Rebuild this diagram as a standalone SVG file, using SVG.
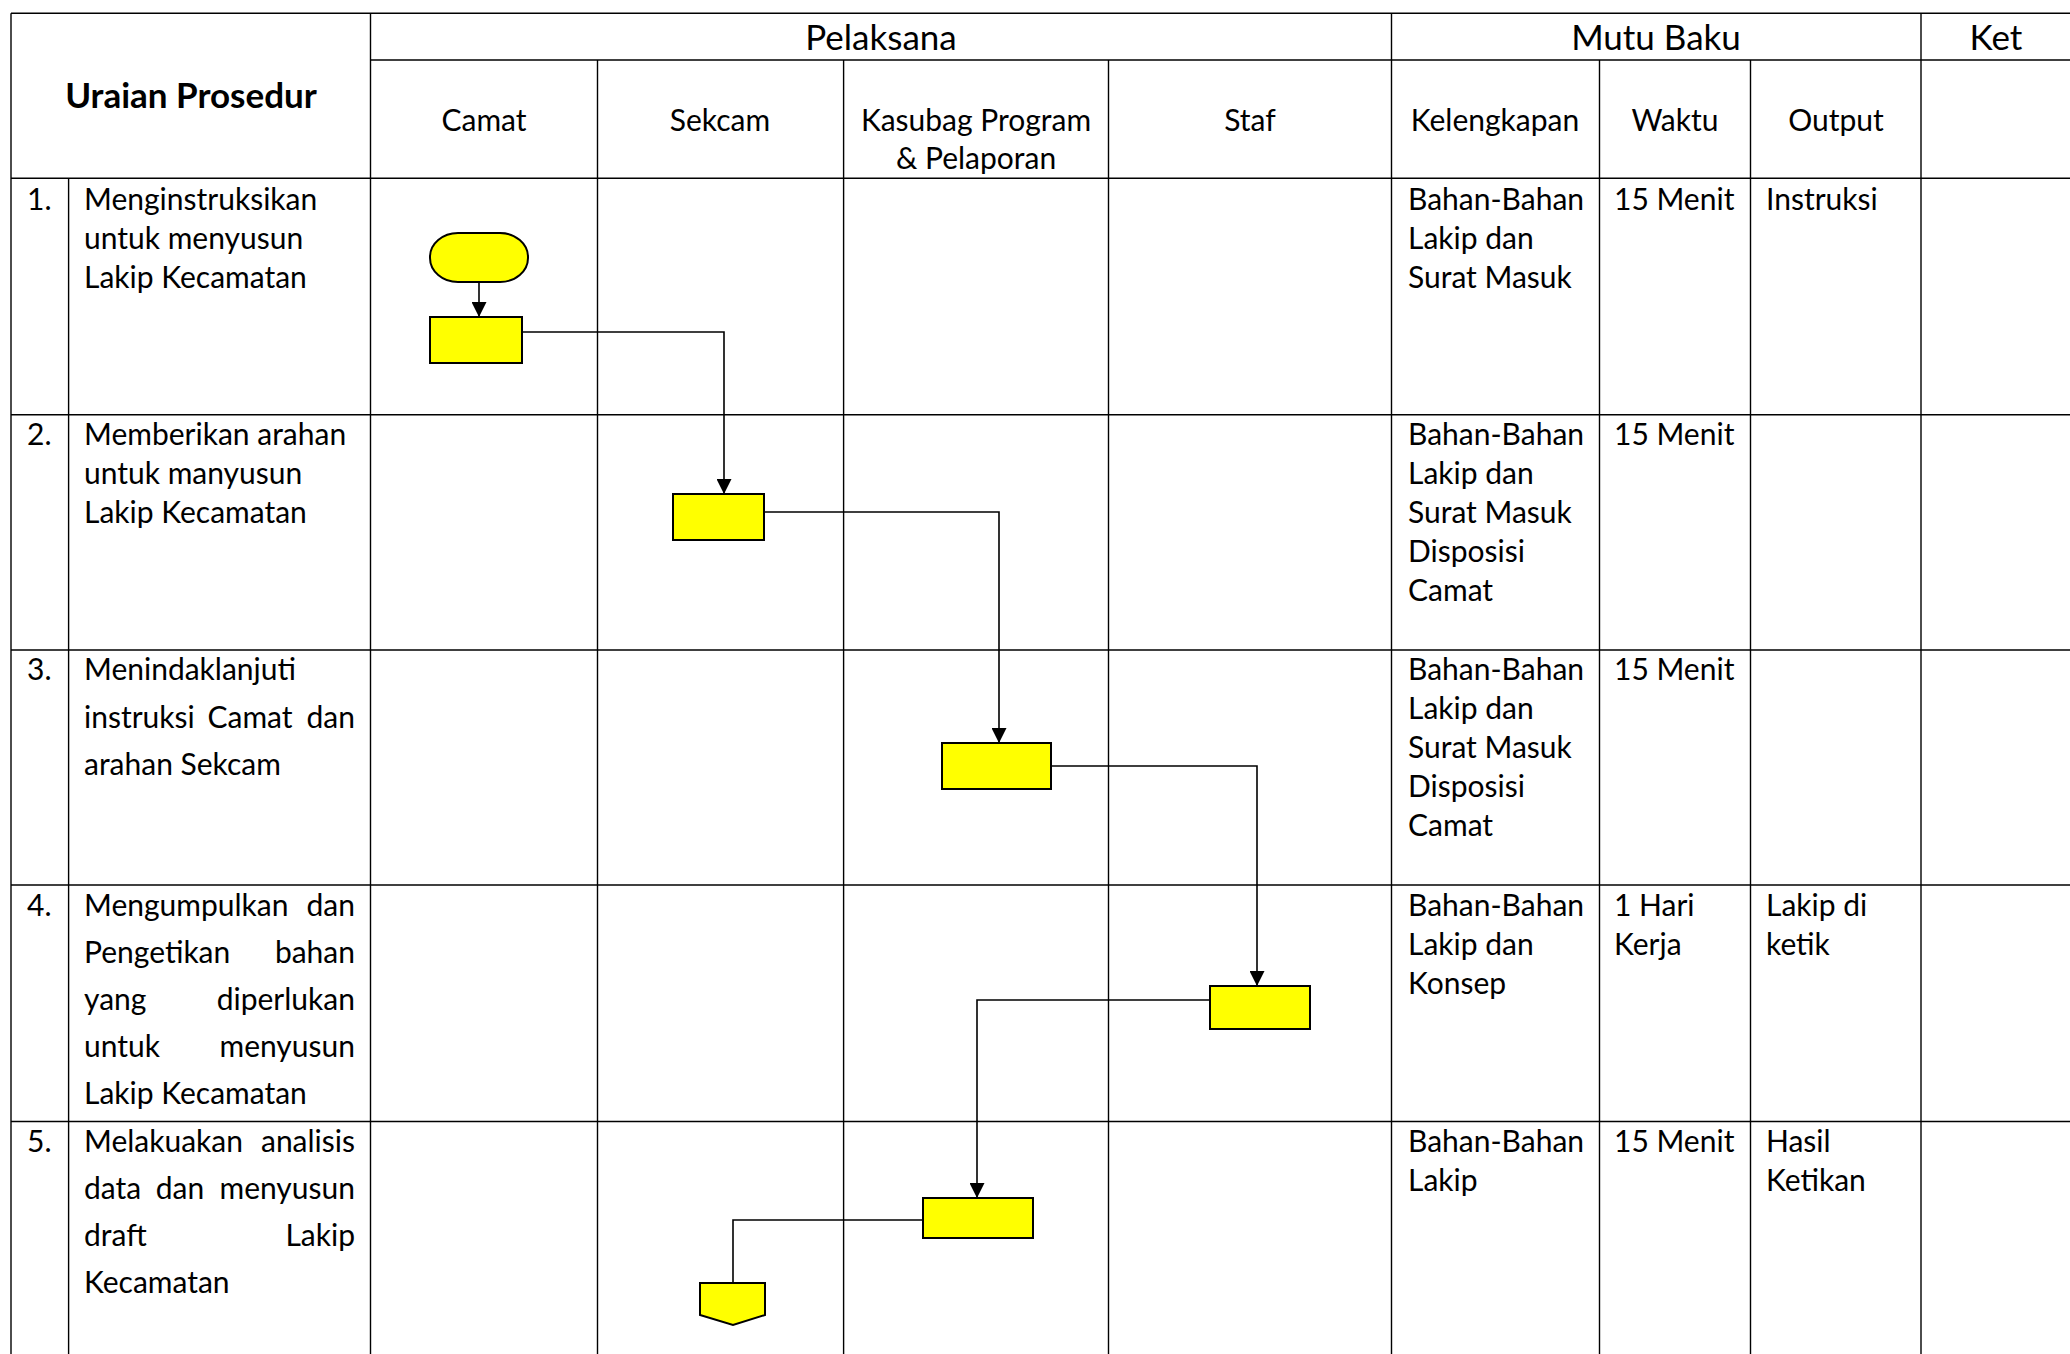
<svg xmlns="http://www.w3.org/2000/svg" width="2070" height="1354" viewBox="0 0 2070 1354">
<style>
.grid line{stroke:#000;stroke-width:1.4}
text{font-family:Lato,"Liberation Sans",sans-serif;fill:#000}
.b{font-size:30px}
.h{font-size:35px}
.hb{font-size:35px;font-weight:bold}
.c{text-anchor:middle}
.e{text-anchor:end}
.shape{fill:#ffff00;stroke:#000;stroke-width:2}
.conn path{fill:none;stroke:#000;stroke-width:1.6}
</style>
<defs>
<marker id="arr" markerUnits="userSpaceOnUse" markerWidth="15" markerHeight="15" refX="15" refY="7.5" orient="auto">
<path d="M0,0 L15,7.5 L0,15 z" fill="#000"/>
</marker>
</defs>
<rect width="2070" height="1354" fill="#fff"/>
<g class="grid">
<line x1="11" y1="13.3" x2="2070" y2="13.3"/>
<line x1="370.5" y1="60" x2="2070" y2="60"/>
<line x1="11" y1="178.3" x2="2070" y2="178.3"/>
<line x1="11" y1="414.7" x2="2070" y2="414.7"/>
<line x1="11" y1="650" x2="2070" y2="650"/>
<line x1="11" y1="885" x2="2070" y2="885"/>
<line x1="11" y1="1121.5" x2="2070" y2="1121.5"/>
<line x1="11" y1="13.3" x2="11" y2="1354"/>
<line x1="68.6" y1="178.3" x2="68.6" y2="1354"/>
<line x1="370.5" y1="13.3" x2="370.5" y2="1354"/>
<line x1="597.5" y1="60" x2="597.5" y2="1354"/>
<line x1="843.6" y1="60" x2="843.6" y2="1354"/>
<line x1="1108.5" y1="60" x2="1108.5" y2="1354"/>
<line x1="1391.5" y1="13.3" x2="1391.5" y2="1354"/>
<line x1="1599.5" y1="60" x2="1599.5" y2="1354"/>
<line x1="1750.5" y1="60" x2="1750.5" y2="1354"/>
<line x1="1921" y1="13.3" x2="1921" y2="1354"/>
</g>
<g id="header">
<text class="hb c" x="191" y="108">Uraian Prosedur</text>
<text class="h c" x="881" y="50">Pelaksana</text>
<text class="h c" x="1656" y="50">Mutu Baku</text>
<text class="h c" x="1996" y="50">Ket</text>
<text class="b c" x="484" y="131">Camat</text>
<text class="b c" x="720" y="131">Sekcam</text>
<text class="b c" x="976" y="131">Kasubag Program</text>
<text class="b c" x="976" y="169">&amp; Pelaporan</text>
<text class="b c" x="1250" y="131">Staf</text>
<text class="b c" x="1495" y="131">Kelengkapan</text>
<text class="b c" x="1675" y="131">Waktu</text>
<text class="b c" x="1836" y="131">Output</text>
</g>
<g id="row1">
<text class="b" x="27" y="210">1.</text>
<text class="b" x="84" y="210">Menginstruksikan<tspan x="84" dy="39">untuk menyusun</tspan><tspan x="84" dy="39">Lakip Kecamatan</tspan></text>
<text class="b" x="1408" y="210">Bahan-Bahan<tspan x="1408" dy="39">Lakip dan</tspan><tspan x="1408" dy="39">Surat Masuk</tspan></text>
<text class="b" x="1614" y="210">15 Menit</text>
<text class="b" x="1766" y="210">Instruksi</text>
</g>
<g id="row2">
<text class="b" x="27" y="445">2.</text>
<text class="b" x="84" y="445">Memberikan arahan<tspan x="84" dy="39">untuk manyusun</tspan><tspan x="84" dy="39">Lakip Kecamatan</tspan></text>
<text class="b" x="1408" y="445">Bahan-Bahan<tspan x="1408" dy="39">Lakip dan</tspan><tspan x="1408" dy="39">Surat Masuk</tspan><tspan x="1408" dy="39">Disposisi</tspan><tspan x="1408" dy="39">Camat</tspan></text>
<text class="b" x="1614" y="445">15 Menit</text>
</g>
<g id="row3">
<text class="b" x="27" y="680">3.</text>
<text class="b" x="84" y="680">Menindaklanjuti</text>
<text class="b" x="84" y="727.5">instruksi</text>
<text class="b c" x="250" y="727.5">Camat</text>
<text class="b e" x="355" y="727.5">dan</text>
<text class="b" x="84" y="775">arahan Sekcam</text>
<text class="b" x="1408" y="680">Bahan-Bahan<tspan x="1408" dy="39">Lakip dan</tspan><tspan x="1408" dy="39">Surat Masuk</tspan><tspan x="1408" dy="39">Disposisi</tspan><tspan x="1408" dy="39">Camat</tspan></text>
<text class="b" x="1614" y="680">15 Menit</text>
</g>
<g id="row4">
<text class="b" x="27" y="916">4.</text>
<text class="b" x="84" y="916">Mengumpulkan</text>
<text class="b e" x="355" y="916">dan</text>
<text class="b" x="84" y="963">Pengetikan</text>
<text class="b e" x="355" y="963">bahan</text>
<text class="b" x="84" y="1010">yang</text>
<text class="b e" x="355" y="1010">diperlukan</text>
<text class="b" x="84" y="1057">untuk</text>
<text class="b e" x="355" y="1057">menyusun</text>
<text class="b" x="84" y="1104">Lakip Kecamatan</text>
<text class="b" x="1408" y="916">Bahan-Bahan<tspan x="1408" dy="39">Lakip dan</tspan><tspan x="1408" dy="39">Konsep</tspan></text>
<text class="b" x="1614" y="916">1 Hari<tspan x="1614" dy="39">Kerja</tspan></text>
<text class="b" x="1766" y="916">Lakip di<tspan x="1766" dy="39">ketik</tspan></text>
</g>
<g id="row5">
<text class="b" x="27" y="1152">5.</text>
<text class="b" x="84" y="1152">Melakuakan</text>
<text class="b e" x="355" y="1152">analisis</text>
<text class="b" x="84" y="1199">data</text>
<text class="b c" x="180" y="1199">dan</text>
<text class="b e" x="355" y="1199">menyusun</text>
<text class="b" x="84" y="1246">draft</text>
<text class="b e" x="355" y="1246">Lakip</text>
<text class="b" x="84" y="1293">Kecamatan</text>
<text class="b" x="1408" y="1152">Bahan-Bahan<tspan x="1408" dy="39">Lakip</tspan></text>
<text class="b" x="1614" y="1152">15 Menit</text>
<text class="b" x="1766" y="1152">Hasil<tspan x="1766" dy="39">Ketikan</tspan></text>
</g>
<g class="conn" id="connectors">
<path d="M479,282 V317" marker-end="url(#arr)"/>
<path d="M522,332 H724 V494" marker-end="url(#arr)"/>
<path d="M764,512 H999 V743" marker-end="url(#arr)"/>
<path d="M1051,766 H1257 V986" marker-end="url(#arr)"/>
<path d="M1210,1000 H977 V1198" marker-end="url(#arr)"/>
<path d="M923,1220 H733 V1283"/>
</g>
<g id="start"><rect class="shape" x="430" y="233" width="98" height="49" rx="28" ry="24"/></g>
<g id="step1"><rect class="shape" x="430" y="317" width="92" height="46"/></g>
<g id="step2"><rect class="shape" x="673" y="494" width="91" height="46"/></g>
<g id="step3"><rect class="shape" x="942" y="743" width="109" height="46"/></g>
<g id="step4"><rect class="shape" x="1210" y="986" width="100" height="43"/></g>
<g id="step5"><rect class="shape" x="923" y="1198" width="110" height="40"/></g>
<g id="offpage"><polygon class="shape" points="700,1283 765,1283 765,1315 733,1325 700,1315"/></g>
</svg>
